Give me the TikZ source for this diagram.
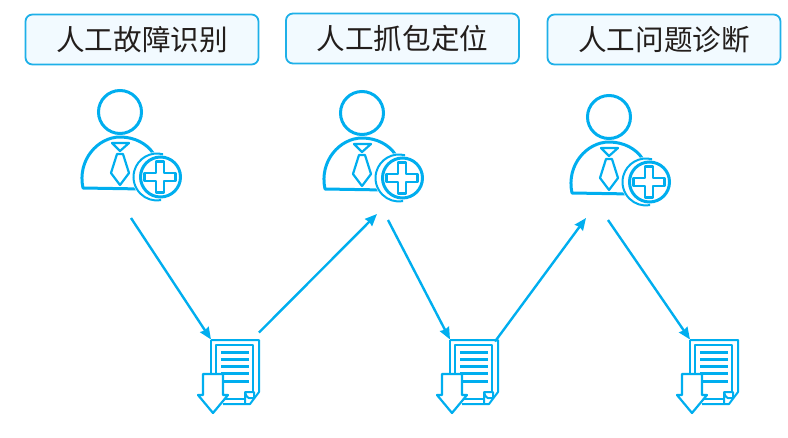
\documentclass[tikz,border=0pt]{standalone}
\usepackage{fontspec}
\usetikzlibrary{arrows.meta,positioning}
\newfontfamily\cjk{Noto Sans CJK SC}
\definecolor{iconblue}{RGB}{0,174,239}
\definecolor{boxblue}{RGB}{242,250,255}
\definecolor{boxline}{RGB}{30,176,232}
\definecolor{labelink}{RGB}{35,30,28}
\tikzset{
  stagebox/.style={rectangle, rounded corners=7pt, draw=boxline, line width=1.8pt, fill=boxblue, text=labelink,
    minimum width=233pt, minimum height=50pt, inner sep=0pt, font=\cjk\fontsize{28.6}{29}\selectfont},
  iconbox/.style={rectangle, inner sep=0pt, outer sep=0pt, minimum width=96pt, minimum height=128pt},
  filebox/.style={rectangle, inner sep=0pt, outer sep=0pt, minimum width=48pt, minimum height=65pt},
  flow/.style={-{Stealth[length=12pt,width=10pt,inset=1pt]}, draw=iconblue, line width=2.4pt},
  pics/person/.style={code={
    % body, head, tie
    \draw[iconblue, line width=3pt, line join=round] (-50,34) .. controls (-56,6) and (-35,-17) .. (-13,-17)
      .. controls (2,-17) and (14,-10) .. (20,-1) -- (10,35) -- cycle;
    \draw[iconblue, line width=3pt] (-13,-42) circle (21.5);
    \draw[iconblue, line width=2.2pt, line join=round] (-21,-11) -- (-4,-11) -- (-13,-3) -- cycle;
    \draw[iconblue, line width=2.2pt, line join=round] (-16,0) -- (-10,0) -- (-4,19) -- (-13,31) -- (-22,19) -- cycle;
    % badge with the cross
    \fill[white] (24,23) circle (25);
    \draw[iconblue, line width=2pt] (24,23) ++(285:23.5) arc[start angle=285, end angle=80, radius=23.5];
    \draw[fill=white, draw=iconblue, line width=3pt] (27.5,23) circle (20);
    \draw[iconblue, line width=2.8pt, line join=round] (23,7.7) -- (31,7.7) -- (31,19) -- (42.3,19) -- (42.3,27) -- (31,27)
      -- (31,38.3) -- (23,38.3) -- (23,27) -- (11.7,27) -- (11.7,19) -- (23,19) -- cycle;
  }},
  pics/report/.style={code={
    % outer sheet, inner sheet, folded corner
    \draw[iconblue, line width=2pt, line join=round] (-24,-32) -- (24,-32) -- (24,20) -- (15,32) -- (-12,32);
    \draw[iconblue, line width=2pt] (-24,-32) -- (-24,2);
    \draw[iconblue, line width=2pt, line join=round] (-19,2) -- (-19,-27) -- (18,-27) -- (18,20);
    \draw[iconblue, line width=2pt] (-12,27) -- (10,27);
    \draw[iconblue, line width=2pt, line join=round] (10,32) -- (10,20) -- (19,20) -- (19,26) .. controls (15,26) and (12,28) .. (10,20);
    \foreach \y in {-20,-12.5,-5.5,1.5,9}
      \draw[iconblue, line width=3pt] (-14,\y) -- (14,\y);
    % download arrow
    \filldraw[fill=white, draw=iconblue, line width=2.2pt, line join=round] (-32,2) -- (-12,2) -- (-12,23) -- (-7,23)
      -- (-22,41) -- (-37,23) -- (-32,23) -- cycle;
  }}
}
\begin{document}
\begin{tikzpicture}[x=1pt, y=-1pt]
\useasboundingbox (0,0) rectangle (788,437);
% Stage labels
\node[stagebox] (stage1) at (142,39.5) {人工故障识别};
\node[stagebox] (stage2) at (402.5,38.5) {人工抓包定位};
\node[stagebox] (stage3) at (664,39.5) {人工问题诊断};

% People
\node[iconbox] (man1) at (133,154) {};
\node[iconbox] (man2) at (375,155) {};
\node[iconbox] (man3) at (622,159) {};
\pic at (man1.center) {person};
\pic at (man2.center) {person};
\pic at (man3.center) {person};

% Reports
\node[filebox] (file1) at (235,372) {};
\node[filebox] (file2) at (474,372) {};
\node[filebox] (file3) at (714,372) {};
\pic at (file1.center) {report};
\pic at (file2.center) {report};
\pic at (file3.center) {report};

% Arrows
\draw[flow] ([xshift=-2pt]man1.south) -- (file1.north west);
\draw[flow] ([yshift=7pt]file1.north east) -- ([shift={(2pt,5pt)}]man2.south);
\draw[flow] ([shift={(13pt,-1pt)}]man2.south) -- (file2.north west);
\draw[flow] ([shift={(-3pt,-2pt)}]file2.north east) -- ([shift={(-36pt,5pt)}]man3.south);
\draw[flow] ([shift={(-14pt,3pt)}]man3.south) -- (file3.north west);
\end{tikzpicture}
\end{document}
